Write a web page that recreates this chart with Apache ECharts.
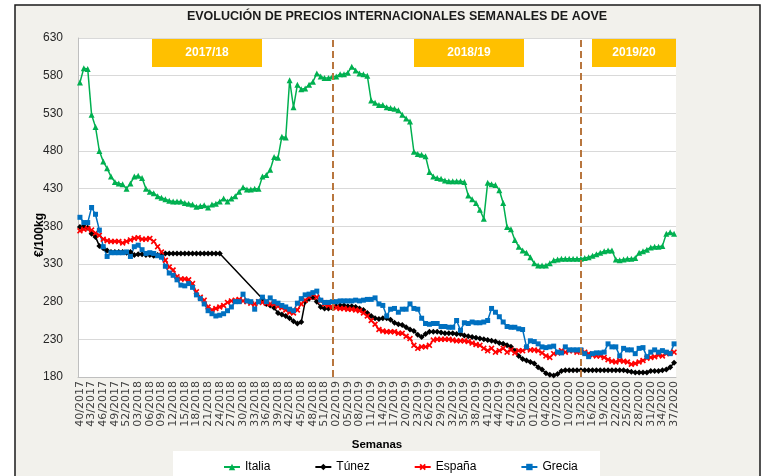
<!DOCTYPE html>
<html>
<head>
<meta charset="utf-8">
<script src="https://cdn.jsdelivr.net/npm/echarts@6/dist/echarts.min.js"></script>
<style>
  html, body { margin: 0; padding: 0; background: #fff; }
  #chart { width: 775px; height: 476px; }
</style>
</head>
<body>
<div id="chart"></div>
<script>
// semanas: [año, semana inicial, semana final]
var tramos = [[2017, 40, 52], [2018, 1, 52], [2019, 1, 52], [2020, 1, 37]];
var semanas = [];
tramos.forEach(function (t) {
  for (var w = t[1]; w <= t[2]; w++) {
    semanas.push((w < 10 ? '0' + w : '' + w) + '/' + t[0]);
  }
});

var italia = [
  571, 590, 589, 528, 512, 480, 466, 457, 446, 439,
  437, 436, 430, 437, 446, 447, 444, 430, 426, 424,
  420, 418, 416, 414, 413, 413, 413, 411, 410, 409,
  406, 407, 408, 405, 409, 410, 413, 417, 413, 417,
  420, 426, 432, 429, 429, 430, 430, 446, 448, 455,
  472, 471, 499, 498, 574, 538, 568, 562, 563, 568,
  572, 583, 579, 577, 577, 579, 579, 582, 582, 584,
  592, 587, 583, 582, 580, 547, 544, 541, 541, 538,
  537, 536, 534, 528, 523, 519, 479, 476, 475, 473,
  452, 446, 444, 443, 441, 440, 440, 440, 440, 439,
  421, 416, 411, 402, 390, 438, 436, 435, 428, 411,
  379, 376, 362, 353, 348, 345, 339, 331, 328, 328,
  328, 331, 335, 336, 337, 337, 337, 337, 337, 337,
  338, 339, 341, 343, 345, 347, 348, 348, 336, 335,
  336, 337, 337, 338, 345, 347, 349, 352, 353, 353,
  354, 370, 372, 370
];

// semanas sin dato: la linea une los puntos
var tunez = [
  379, 380, 378, 370, 366, 354, 351, 348, 346, 346,
  346, 346, 345, 346, 342, 343, 343, 342, 342, 341,
  342, 343, 344, 344, 344, 344, 344, 344, 344, 344,
  344, 344, 344, 344, 344, 344, 344, null, null, null,
  null, null, null, null, null, null, null, 284, 277, 275,
  272, 265, 263, 261, 258, 254, 251, 253, 280, 284,
  286, 280, 273, 271, 271, 272, 274, 275, 275, 274,
  274, 273, 271, 269, 265, 261, 258, 257, 258, 258,
  256, 252, 250, 249, 246, 243, 241, 236, 233, 237,
  240, 240, 240, 239, 238, 238, 238, 237, 237, 235,
  234, 233, 232, 231, 230, 229, 228, 227, 225, 224,
  222, 220, 215, 208, 204, 202, 200, 198, 193, 190,
  185, 183, 182, 184, 188, 189, 189, 189, 189, 189,
  189, 189, 189, 189, 189, 189, 189, 189, 189, 189,
  189, 188, 187, 186, 186, 186, 186, 188, 188, 188,
  189, 190, 193, 199
];

var espana = [
  374, 376, 377, 375, 371, 368, 363, 361, 360, 360,
  360, 358, 360, 362, 364, 365, 363, 363, 364, 360,
  353, 346, 335, 326, 322, 313, 310, 310, 309, 304,
  293, 286, 282, 273, 269, 271, 273, 275, 279, 281,
  282, 283, 281, 280, 278, 277, 280, 279, 278, 277,
  277, 274, 272, 269, 266, 265, 269, 277, 282, 286,
  290, 286, 281, 277, 275, 273, 272, 271, 271, 270,
  270, 269, 268, 265, 261, 255, 250, 243, 241, 240,
  240, 240, 238, 238, 234, 231, 222, 218, 220, 220,
  222, 229, 230, 230, 230, 230, 229, 228, 228, 228,
  227, 225, 223, 222, 218, 215, 218, 213, 215, 218,
  213, 216, 212, 215, 215, 218, 216, 216, 215, 212,
  208, 206, 211, 212, 215, 213, 215, 215, 213, 215,
  213, 211, 209, 208, 208, 206, 203, 201, 200, 202,
  201, 200, 197, 198, 200, 202, 205, 206, 207, 209,
  208, 211, 212, 213
];

var grecia = [
  392, 385, 385, 405, 396, 375, 353, 340, 345, 345,
  345, 345, 346, 340, 353, 355, 349, 344, 345, 344,
  341, 339, 327, 318, 315, 309, 302, 301, 304, 299,
  289, 284, 277, 268, 264, 261, 262, 264, 268, 273,
  280, 280, 290, 281, 280, 270, 280, 286, 280, 285,
  280, 278, 275, 273, 270, 268, 278, 284, 289, 290,
  292, 294, 282, 279, 279, 280, 280, 281, 281, 281,
  281, 282, 281, 282, 283, 283, 285, 277, 275, 261,
  270, 271, 266, 270, 270, 277, 271, 270, 258, 251,
  250, 251, 251, 247, 247, 246, 246, 255, 242, 252,
  251, 253, 252, 252, 253, 255, 271, 266, 260, 253,
  247, 246, 246, 244, 243, 220, 228, 227, 224, 220,
  219, 220, 221, 213, 212, 220, 216, 216, 216, 216,
  211, 207, 211, 212, 212, 213, 224, 220, 220, 208,
  218, 216, 216, 211, 218, 219, 207, 213, 216, 213,
  215, 213, 211, 224
];

// inicio de campaña (lineas discontinuas)
var cortes = ['01/2019', '13/2020'];
var campanas = ['2017/18', '2018/19', '2019/20'];

var titulo = 'EVOLUCIÓN DE PRECIOS INTERNACIONALES SEMANALES DE AOVE';
var aspa = 'path://M0,2L2,0L5,3L8,0L10,2L7,5L10,8L8,10L5,7L2,10L0,8L3,5Z';

function serie(nombre, datos, color, simbolo, tam) {
  return {
    name: nombre,
    type: 'line',
    data: datos,
    connectNulls: true,
    symbol: simbolo,
    symbolSize: tam,
    showAllSymbol: true,
    lineStyle: { width: 1.5, color: color },
    itemStyle: { color: color },
    emphasis: { disabled: true }
  };
}

function caja(x, w, texto) {
  return {
    type: 'group', z: 100,
    children: [
      { type: 'rect', shape: { x: x, y: 38, width: w, height: 29 }, style: { fill: '#FFC000' } },
      { type: 'text', x: x + w / 2, y: 53,
        style: { text: texto, fill: '#fff', font: 'bold 12px "Liberation Sans", Arial, sans-serif',
                 textAlign: 'center', textVerticalAlign: 'middle' } }
    ]
  };
}

var dom = document.getElementById('chart');
var myChart = echarts.init(dom, null, { renderer: 'canvas' });

var italiaSerie = serie('Italia', italia, '#00B050', 'triangle', 6);
italiaSerie.markLine = {
  silent: true,
  symbol: 'none',
  label: { show: false },
  lineStyle: { color: '#B8763E', type: [7, 4], width: 2 },
  data: cortes.map(function (c) { return { xAxis: c }; })
};

var option = {
  animation: false,
  backgroundColor: '#F2F1EC',
  textStyle: { fontFamily: '"Liberation Sans", Arial, sans-serif' },
  graphic: [
    { type: 'rect', shape: { x: 0, y: 0, width: 15, height: 476 }, style: { fill: '#fff' } },
    { type: 'rect', shape: { x: 0, y: 0, width: 775, height: 5 }, style: { fill: '#fff' } },
    { type: 'rect', shape: { x: 760, y: 0, width: 15, height: 476 }, style: { fill: '#fff' } },
    { type: 'rect', shape: { x: 15, y: 5, width: 745, height: 480 }, style: { fill: 'none', stroke: '#1a1a1a', lineWidth: 1.5 } },
    { type: 'rect', z: 1, shape: { x: 173, y: 451, width: 427, height: 30 }, style: { fill: '#fff' } },
    { type: 'text', x: 397, y: 17,
      style: { text: titulo, fill: '#1a1a1a', font: 'bold 12.5px "Liberation Sans", Arial, sans-serif',
               textAlign: 'center', textVerticalAlign: 'middle' } },
    { type: 'text', x: 40, y: 235, rotation: Math.PI / 2,
      style: { text: '€/100kg', fill: '#000', font: 'bold 12px "Liberation Sans", Arial, sans-serif',
               textAlign: 'center', textVerticalAlign: 'middle' } },
    caja(152, 110, campanas[0]),
    caja(414, 110, campanas[1]),
    caja(592, 84, campanas[2])
  ],
  grid: {
    left: 78, right: 99, top: 38, bottom: 99,
    show: true, backgroundColor: '#fff', borderWidth: 0
  },
  legend: {
    z: 5,
    left: 218, top: 456,
    itemGap: 44, itemWidth: 16, itemHeight: 8,
    textStyle: { fontSize: 12, color: '#000' },
    data: ['Italia', 'Túnez', 'España', 'Grecia']
  },
  xAxis: {
    type: 'category',
    data: semanas,
    boundaryGap: true,
    name: 'Semanas',
    nameLocation: 'middle',
    nameGap: 62,
    nameTextStyle: { fontWeight: 'bold', fontSize: 11.5, color: '#000' },
    axisLine: { lineStyle: { color: '#BFBFBF' } },
    axisTick: { interval: 0, length: 4, lineStyle: { color: '#BFBFBF' } },
    axisLabel: {
      interval: 2, rotate: 90, fontSize: 11, fontFamily: 'DejaVu Sans', color: '#404040', margin: 4,
      showMinLabel: true, showMaxLabel: true
    }
  },
  yAxis: {
    type: 'value',
    min: 180, max: 630, interval: 50,
    axisLine: { show: true, lineStyle: { color: '#BFBFBF' } },
    axisTick: { show: false },
    axisLabel: { fontSize: 12, color: '#262626', margin: 15 },
    splitLine: { lineStyle: { color: '#D9D9D9' } }
  },
  series: [
    italiaSerie,
    serie('Túnez', tunez, '#000000', 'diamond', 6),
    serie('España', espana, '#FF0000', aspa, 6),
    serie('Grecia', grecia, '#0070C0', 'rect', 5)
  ]
};

if (option && typeof option === 'object') {
  myChart.setOption(option);
}

window.addEventListener('resize', myChart.resize);
</script>
</body>
</html>
